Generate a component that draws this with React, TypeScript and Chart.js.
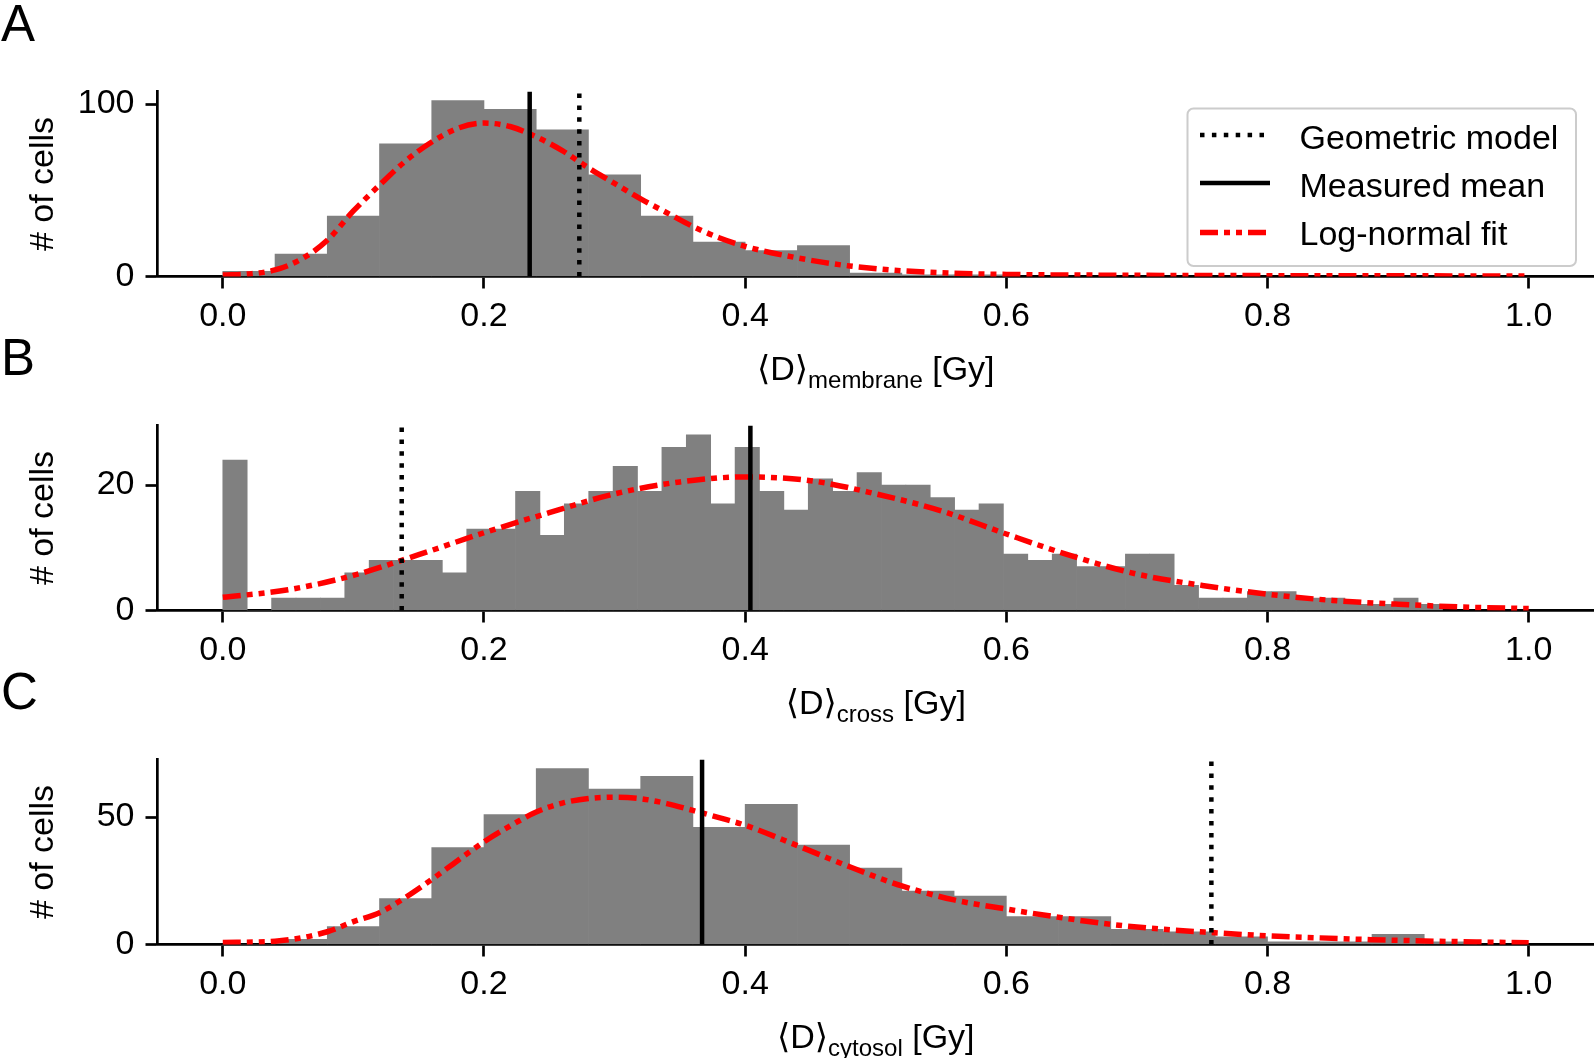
import React, { useEffect, useRef } from "react";
import { Chart, registerables } from "chart.js";

Chart.register(...registerables);

const FONT = "'Liberation Sans', Arial, 'DejaVu Sans', sans-serif";

// ---------- shared axis data ----------
const xTickValues = [0, 0.2, 0.4, 0.6, 0.8, 1.0];
const xTickLabels = ["0.0", "0.2", "0.4", "0.6", "0.8", "1.0"];
const legendLabels = ["Geometric model", "Measured mean", "Log-normal fit"];
const yAxisTitle = "# of cells";

// ---------- Panel A : membrane ----------
const binWidthA = 0.04;
const countsA = [3, 13, 35, 77, 102, 97, 85, 59, 35, 20, 15, 18, 2, 1, 1];
const fitXA = [0, 0.02, 0.04, 0.06, 0.08, 0.1, 0.12, 0.14, 0.16, 0.18, 0.2, 0.22, 0.24, 0.26, 0.28, 0.3, 0.32, 0.34, 0.36, 0.38, 0.4, 0.42, 0.44, 0.46, 0.48, 0.52, 0.56, 0.6, 0.7, 0.8, 0.9, 1.0];
const fitYA = [0.8, 1.5, 3.8, 10, 21, 38, 53, 67, 78, 86, 89, 87, 81, 73, 63, 54, 45, 37, 29, 22.5, 17.5, 13.8, 10.8, 8.2, 6.1, 3.3, 1.9, 1.2, 0.7, 0.5, 0.4, 0.3];
const measuredMeanA = 0.235;
const geometricA = 0.273;
const yTicksA = [0, 100];
const yMaxA = 107.3;

// ---------- Panel B : cross ----------
const binWidthB = 0.01868;
const countsB = [24, 0, 2, 2, 2, 6, 8, 8, 8, 6, 13, 13, 19, 12, 17, 19, 23, 19, 26, 28, 17, 26, 19, 16, 21, 19, 22, 20, 20, 18, 16, 17, 9, 8, 9, 7, 7, 9, 9, 4, 2, 2, 3, 3, 2, 2, 1, 1, 2, 1];
const fitXB = [0, 0.05, 0.1, 0.15, 0.2, 0.25, 0.3, 0.35, 0.4, 0.45, 0.5, 0.55, 0.6, 0.65, 0.7, 0.75, 0.8, 0.85, 0.9, 0.95, 1.0];
const fitYB = [2.1, 3.3, 5.6, 8.9, 12.4, 15.6, 18.6, 20.5, 21.3, 20.7, 18.6, 15.9, 12.2, 8.7, 5.8, 4.0, 2.6, 1.6, 1.0, 0.55, 0.3];
const measuredMeanB = 0.404;
const geometricB = 0.137;
const yTicksB = [0, 20];
const yMaxB = 29.5;

// ---------- Panel C : cytosol ----------
const binWidthC = 0.04;
const countsC = [0, 2, 7, 18, 38, 51, 69, 61, 66, 46, 55, 39, 30, 21, 19, 11, 11, 6, 5, 3, 1, 1, 4, 1];
const fitXC = [0, 0.04, 0.08, 0.1, 0.12, 0.14, 0.16, 0.18, 0.2, 0.22, 0.24, 0.26, 0.28, 0.3, 0.32, 0.34, 0.36, 0.38, 0.4, 0.44, 0.48, 0.52, 0.56, 0.6, 0.64, 0.68, 0.72, 0.76, 0.8, 0.84, 0.88, 0.92, 0.96, 1.0];
const fitYC = [0.8, 1.3, 5, 9, 12.5, 18.5, 25.5, 33, 40.3, 46.5, 52, 55.5, 57.3, 57.8, 57.2, 55.3, 52.6, 49.8, 46.8, 38.8, 30.5, 23, 17.5, 13.9, 10.7, 7.9, 6, 4.6, 3.4, 2.6, 1.9, 1.4, 1.0, 0.7];
const measuredMeanC = 0.367;
const geometricC = 0.757;
const yTicksC = [0, 50];
const yMaxC = 72.6;

// ---------- styles ----------
const BAR_COLOR = "#808080";
const FIT_COLOR = "#ff0000";
const FIT_WIDTH = 5.5;
const FIT_DASH = [18, 6, 6, 6, 6, 6];
const VLINE_WIDTH = 4.5;
const DOT_DASH = [4.5, 7.4];

type Panel = {
  letter: string;
  sub: string;
  binWidth: number;
  counts: number[];
  fitX: number[];
  fitY: number[];
  mean: number;
  geo: number;
  yTicks: number[];
  yMax: number;
  legend: boolean;
};

const panels: Panel[] = [
  { letter: "A", sub: "membrane", binWidth: binWidthA, counts: countsA, fitX: fitXA, fitY: fitYA, mean: measuredMeanA, geo: geometricA, yTicks: yTicksA, yMax: yMaxA, legend: true },
  { letter: "B", sub: "cross", binWidth: binWidthB, counts: countsB, fitX: fitXB, fitY: fitYB, mean: measuredMeanB, geo: geometricB, yTicks: yTicksB, yMax: yMaxB, legend: false },
  { letter: "C", sub: "cytosol", binWidth: binWidthC, counts: countsC, fitX: fitXC, fitY: fitYC, mean: measuredMeanC, geo: geometricC, yTicks: yTicksC, yMax: yMaxC, legend: false },
];

const CANVAS_W = 1594;
const CANVAS_H = 390;
const CANVAS_TOPS = [0, 334, 668];
const AREA_TOP = 91.5;
const AREA_BOTTOM = 276.5;
const AREA_LEFT = 157.5;

function drawLegend(ctx: CanvasRenderingContext2D) {
  const x0 = 1187.5, y0 = 108.5, x1 = 1576, y1 = 266;
  ctx.save();
  ctx.beginPath();
  (ctx as any).roundRect(x0, y0, x1 - x0, y1 - y0, 6);
  ctx.fillStyle = "rgba(255,255,255,0.8)";
  ctx.fill();
  ctx.lineWidth = 2;
  ctx.strokeStyle = "#cccccc";
  ctx.stroke();
  const items = [
    { label: legendLabels[0], color: "#000", width: VLINE_WIDTH, dash: DOT_DASH, y: 135, base: 148.5 },
    { label: legendLabels[1], color: "#000", width: VLINE_WIDTH, dash: [] as number[], y: 183, base: 196.5 },
    { label: legendLabels[2], color: FIT_COLOR, width: FIT_WIDTH, dash: FIT_DASH, y: 232.5, base: 244.5 },
  ];
  for (const it of items) {
    ctx.beginPath();
    ctx.setLineDash(it.dash);
    ctx.lineCap = "butt";
    ctx.lineWidth = it.width;
    ctx.strokeStyle = it.color;
    ctx.moveTo(1200, it.y);
    ctx.lineTo(1270, it.y);
    ctx.stroke();
    ctx.setLineDash([]);
    ctx.font = `34px ${FONT}`;
    ctx.fillStyle = "#000";
    ctx.textAlign = "left";
    ctx.textBaseline = "alphabetic";
    ctx.fillText(it.label, 1299.5, it.base);
  }
  ctx.restore();
}

function makeAnnotPlugin(p: Panel) {
  return {
    id: "annot" + p.letter,
    afterDraw(chart: any) {
      const ctx: CanvasRenderingContext2D = chart.ctx;
      const a = chart.chartArea;
      ctx.save();
      ctx.fillStyle = "#000";
      ctx.textBaseline = "alphabetic";
      // panel letter
      ctx.font = `51px ${FONT}`;
      ctx.textAlign = "left";
      ctx.fillText(p.letter, 1, 41);
      // y title
      ctx.font = `34px ${FONT}`;
      ctx.save();
      ctx.translate(53, (a.top + a.bottom) / 2);
      ctx.rotate(-Math.PI / 2);
      ctx.textAlign = "center";
      ctx.fillText(yAxisTitle, 0, 0);
      ctx.restore();
      // x title with subscript
      const mainFont = `34px ${FONT}`;
      const subFont = `24px ${FONT}`;
      const part1 = "\u27E8D\u27E9";
      const part3 = " [Gy]";
      ctx.textAlign = "left";
      ctx.font = mainFont;
      const w1 = ctx.measureText(part1).width;
      const w3 = ctx.measureText(part3).width;
      ctx.font = subFont;
      const w2 = ctx.measureText(p.sub).width;
      const total = w1 + w2 + w3;
      const cx = (a.left + a.right) / 2;
      const base = a.bottom + 103.5;
      let x = cx - total / 2;
      ctx.font = mainFont;
      ctx.fillText(part1, x, base);
      x += w1;
      ctx.font = subFont;
      ctx.fillText(p.sub, x, base + 7.5);
      x += w2;
      ctx.font = mainFont;
      ctx.fillText(part3, x, base);
      ctx.restore();
      if (p.legend) drawLegend(ctx);
    },
  };
}

function makeChart(canvas: HTMLCanvasElement, p: Panel) {
  const bars = p.counts.map((c, i) => ({ x: (i + 0.5) * p.binWidth, y: c }));
  const fit = p.fitX.map((x, i) => ({ x, y: p.fitY[i] }));
  return new Chart(canvas, {
    type: "bar",
    data: {
      datasets: [
        {
          type: "bar",
          data: bars as any,
          backgroundColor: BAR_COLOR,
          borderWidth: 0,
          barPercentage: 1,
          categoryPercentage: 1,
          order: 3,
        } as any,
        {
          type: "line",
          data: fit as any,
          borderColor: FIT_COLOR,
          borderWidth: FIT_WIDTH,
          borderDash: FIT_DASH,
          borderCapStyle: "butt",
          pointRadius: 0,
          fill: false,
          cubicInterpolationMode: "monotone",
          order: 2,
        } as any,
        {
          type: "line",
          data: [{ x: p.mean, y: 0 }, { x: p.mean, y: p.yMax }] as any,
          borderColor: "#000",
          borderWidth: VLINE_WIDTH,
          pointRadius: 0,
          fill: false,
          order: 1,
        } as any,
        {
          type: "line",
          data: [{ x: p.geo, y: 0 }, { x: p.geo, y: p.yMax }] as any,
          borderColor: "#000",
          borderWidth: VLINE_WIDTH,
          borderDash: DOT_DASH,
          borderCapStyle: "butt",
          pointRadius: 0,
          fill: false,
          order: 1,
        } as any,
      ],
    },
    options: {
      responsive: false,
      animation: false,
      events: [],
      layout: { padding: { top: AREA_TOP, left: 0, right: 0, bottom: 0 } },
      plugins: { legend: { display: false }, tooltip: { enabled: false } },
      scales: {
        x: {
          type: "linear",
          min: -0.05,
          max: 1.05,
          offset: false,
          afterBuildTicks: (s: any) => {
            s.ticks = xTickValues.map((v) => ({ value: v }));
          },
          afterFit: (s: any) => {
            s.height = CANVAS_H - AREA_BOTTOM;
          },
          grid: {
            offset: false,
            drawOnChartArea: false,
            drawTicks: true,
            tickLength: 12,
            tickWidth: 2.7,
            tickColor: "#000",
          },
          border: { display: true, color: "#000", width: 2.7 },
          ticks: {
            color: "#000",
            font: { family: FONT, size: 34 },
            padding: 8,
            maxRotation: 0,
            autoSkip: false,
            includeBounds: false,
            callback: (_v: any, i: number) => xTickLabels[i],
          },
        } as any,
        y: {
          type: "linear",
          min: 0,
          max: p.yMax,
          afterBuildTicks: (s: any) => {
            s.ticks = p.yTicks.map((v) => ({ value: v }));
          },
          afterFit: (s: any) => {
            s.width = AREA_LEFT;
          },
          grid: {
            drawOnChartArea: false,
            drawTicks: true,
            tickLength: 12,
            tickWidth: 2.7,
            tickColor: "#000",
          },
          border: { display: true, color: "#000", width: 2.7 },
          ticks: {
            color: "#000",
            font: { family: FONT, size: 34 },
            padding: 11,
            callback: (v: any) => String(v),
          },
        } as any,
      },
    },
    plugins: [makeAnnotPlugin(p)],
  } as any);
}

export default function App() {
  const refs = [useRef<HTMLCanvasElement>(null), useRef<HTMLCanvasElement>(null), useRef<HTMLCanvasElement>(null)];
  useEffect(() => {
    const charts = panels.map((p, i) => makeChart(refs[i].current as HTMLCanvasElement, p));
    return () => charts.forEach((c) => c.destroy());
  }, []);
  return (
    <div style={{ position: "absolute", left: 0, top: 0, width: CANVAS_W, height: 1058, background: "#fff", overflow: "hidden" }}>
      {panels.map((p, i) => (
        <canvas
          key={p.letter}
          ref={refs[i]}
          width={CANVAS_W}
          height={CANVAS_H}
          style={{ position: "absolute", left: 0, top: CANVAS_TOPS[i], width: CANVAS_W, height: CANVAS_H, display: "block" }}
        />
      ))}
    </div>
  );
}
